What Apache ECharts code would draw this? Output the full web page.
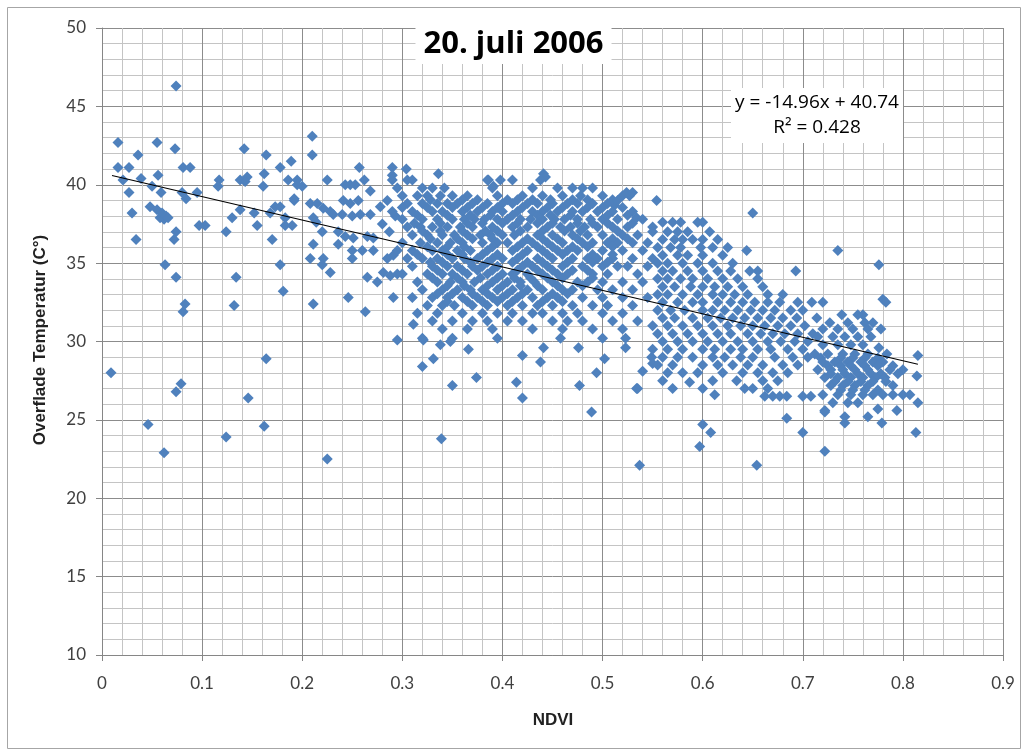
<!DOCTYPE html>
<html><head><meta charset="utf-8">
<script src="https://cdn.jsdelivr.net/npm/echarts@6/dist/echarts.min.js"></script>
<style>html,body{margin:0;padding:0;background:#fff}#c{width:1027px;height:751px}</style>
</head><body><div id="c"></div>
<script>
// ---- Data (NDVI, surface temperature °C) ----
const xTicks = [0, 0.1, 0.2, 0.3, 0.4, 0.5, 0.6, 0.7, 0.8, 0.9];
const yTicks = [10, 15, 20, 25, 30, 35, 40, 45, 50];
const trendSlope = -14.96, trendIntercept = 40.74, trendR2 = 0.428;
const trendRange = [0.01, 0.815];

const sparseLeft = [[0.009,28.0],[0.016,42.7],[0.016,41.1],[0.021,40.3],[0.027,41.1],[0.027,39.5],[0.030,38.2],[0.034,36.5],[0.036,41.9],[0.039,40.4],[0.046,24.7],[0.048,38.6],[0.050,39.9],[0.055,42.7],[0.056,40.6],[0.055,38.4],[0.058,37.9],[0.060,38.2],[0.062,37.8],[0.064,38.0],[0.066,37.9],[0.059,39.5],[0.063,34.9],[0.062,22.9],[0.073,42.3],[0.074,46.3],[0.074,37.0],[0.072,36.5],[0.074,34.1],[0.074,26.8],[0.079,27.3],[0.081,41.1],[0.088,41.1],[0.080,39.5],[0.084,39.1],[0.083,32.4],[0.081,31.9],[0.095,39.5],[0.097,37.4],[0.103,37.4],[0.117,40.3],[0.116,39.9],[0.124,23.9],[0.124,37.0],[0.130,37.9],[0.134,34.1],[0.132,32.3],[0.138,38.4],[0.138,40.3],[0.142,42.3],[0.145,40.5],[0.143,40.2],[0.146,26.4],[0.152,38.2],[0.155,37.4],[0.162,40.7],[0.161,39.9],[0.164,41.9],[0.162,24.6],[0.164,28.9],[0.170,36.5],[0.168,38.2],[0.173,38.6],[0.178,38.6],[0.178,41.1],[0.178,34.9],[0.181,33.2],[0.189,41.5],[0.186,40.3],[0.195,40.3],[0.192,39.0],[0.183,37.9],[0.183,37.4],[0.190,37.4]];

const sparseMid = [[0.200,39.9],[0.195,40.0],[0.210,43.1],[0.210,41.9],[0.208,38.8],[0.215,38.8],[0.192,39.1],[0.221,38.5],[0.228,38.3],[0.211,37.9],[0.214,37.6],[0.220,37.0],[0.211,36.2],[0.208,35.3],[0.221,35.3],[0.220,34.9],[0.228,34.4],[0.211,32.4],[0.225,40.3],[0.225,22.5],[0.231,38.1],[0.240,38.1],[0.250,38.0],[0.258,38.1],[0.268,38.1],[0.243,40.0],[0.248,40.0],[0.253,40.0],[0.257,41.1],[0.268,39.6],[0.241,39.0],[0.248,38.8],[0.256,39.0],[0.236,37.0],[0.243,36.7],[0.251,36.6],[0.265,36.7],[0.271,36.6],[0.236,36.2],[0.250,35.8],[0.250,35.3],[0.260,35.8],[0.271,35.8],[0.265,34.1],[0.246,32.8],[0.263,31.9],[0.275,33.8],[0.281,34.4],[0.288,34.2],[0.295,34.3],[0.285,35.3],[0.291,35.5],[0.291,32.8],[0.280,37.5],[0.287,37.0],[0.293,38.0],[0.278,38.6],[0.285,39.0],[0.290,41.1],[0.290,40.6],[0.290,40.3],[0.295,30.1],[0.262,40.3],
[0.311,31.1],[0.321,30.1],[0.320,28.4],[0.331,28.9],[0.338,29.8],[0.348,30.0],[0.339,23.8],[0.350,27.2],[0.366,29.5],[0.374,27.7],[0.336,40.7],[0.304,41.0],[0.414,27.4],[0.420,26.4],[0.420,29.1],[0.438,28.7],[0.441,29.6],[0.477,27.2],[0.476,29.6],[0.489,25.5],[0.494,28.0],[0.502,28.9],[0.523,29.6],[0.534,27.0],[0.537,22.1],[0.540,28.1],[0.441,40.7],[0.443,40.5],[0.386,40.3],[0.391,39.9],[0.512,38.7],[0.534,37.9],[0.549,29.0],[0.550,28.6],[0.535,27.0]];

const sparseRight = [[0.597,23.3],[0.600,24.7],[0.608,24.2],[0.654,22.1],[0.722,23.0],[0.722,25.5],[0.742,24.8],[0.684,25.1],[0.700,24.2],[0.644,35.8],[0.735,35.8],[0.776,34.9],[0.650,38.2],[0.587,27.4],[0.612,26.6],[0.780,32.7],[0.783,32.5],[0.776,29.6],[0.815,29.1],[0.814,27.8],[0.815,26.1],[0.813,24.2],[0.765,25.2],[0.775,25.7],[0.779,24.8],[0.794,25.6]];

// Dense band: each row = [temperature, [ndvi values]]
const coreRows = [
 [40.3,[0.305,0.310,0.398,0.410,0.438,0.385]],
 [39.8,[0.295,0.320,0.330,0.342,0.390,0.430,0.455,0.470,0.480,0.490]],
 [39.3,[0.300,0.315,0.325,0.338,0.350,0.365,0.395,0.420,0.440,0.460,0.478,0.500,0.520,0.527]],
 [38.8,[0.305,0.320,0.335,0.345,0.355,0.370,0.385,0.400,0.410,0.425,0.435,0.450,0.465,0.475,0.490,0.505]],
 [38.3,[0.290,0.310,0.330,0.340,0.360,0.375,0.390,0.400,0.415,0.430,0.440,0.455,0.470,0.480,0.495,0.510,0.530]],
 [37.8,[0.300,0.320,0.335,0.350,0.362,0.372,0.382,0.395,0.405,0.418,0.428,0.440,0.452,0.462,0.475,0.488,0.500,0.515,0.540]],
 [37.3,[0.305,0.318,0.330,0.345,0.358,0.370,0.390,0.410,0.425,0.445,0.458,0.468,0.482,0.495,0.510,0.525,0.550]],
 [36.8,[0.310,0.325,0.340,0.352,0.365,0.378,0.388,0.400,0.412,0.435,0.450,0.470,0.485,0.500,0.520,0.535]],
 [36.3,[0.300,0.318,0.335,0.348,0.360,0.380,0.395,0.405,0.420,0.430,0.445,0.460,0.480,0.490,0.505,0.515,0.530,0.545]],
 [35.8,[0.295,0.310,0.330,0.340,0.355,0.368,0.385,0.410,0.425,0.440,0.455,0.465,0.475,0.500,0.520,0.540]],
 [35.3,[0.305,0.320,0.335,0.350,0.362,0.375,0.390,0.400,0.415,0.435,0.450,0.470,0.485,0.495,0.510,0.530,0.550]],
 [34.8,[0.310,0.330,0.345,0.355,0.370,0.380,0.395,0.420,0.430,0.445,0.460,0.480,0.500,0.515,0.525,0.545]],
 [34.3,[0.300,0.325,0.340,0.350,0.365,0.385,0.400,0.410,0.425,0.440,0.455,0.465,0.490,0.505,0.535]],
 [33.8,[0.315,0.335,0.348,0.360,0.372,0.390,0.405,0.418,0.432,0.450,0.475,0.485,0.500,0.520,0.540]],
 [33.3,[0.320,0.340,0.355,0.368,0.380,0.395,0.410,0.425,0.440,0.460,0.470,0.495,0.510,0.530]],
 [32.8,[0.310,0.330,0.345,0.360,0.375,0.390,0.400,0.415,0.430,0.445,0.455,0.480,0.500,0.520,0.545]],
 [32.3,[0.325,0.340,0.352,0.370,0.385,0.405,0.420,0.435,0.450,0.470,0.490,0.505,0.530]],
 [31.8,[0.315,0.335,0.360,0.380,0.395,0.410,0.430,0.440,0.460,0.475,0.500,0.520]],
 [31.3,[0.330,0.350,0.370,0.385,0.405,0.420,0.450,0.465,0.480,0.510,0.535]],
 [30.8,[0.340,0.365,0.390,0.430,0.460,0.490,0.520]],
 [30.2,[0.320,0.350,0.395,0.458,0.500,0.523]]
];

const coreFillRows = [
 [39.05,[0.328,0.360,0.375,0.405,0.415,0.430,0.448,0.470,0.485,0.510]],
 [38.55,[0.300,0.325,0.350,0.365,0.380,0.395,0.420,0.445,0.460,0.485,0.500,0.520]],
 [38.05,[0.315,0.345,0.368,0.388,0.410,0.435,0.448,0.468,0.505,0.525]],
 [37.55,[0.312,0.338,0.365,0.380,0.400,0.415,0.435,0.450,0.475,0.490,0.505,0.530]],
 [37.05,[0.320,0.338,0.360,0.383,0.395,0.418,0.440,0.462,0.478,0.515]],
 [36.55,[0.328,0.355,0.370,0.390,0.425,0.440,0.455,0.475,0.510,0.525]],
 [36.05,[0.325,0.345,0.362,0.390,0.415,0.435,0.450,0.470,0.485,0.510]],
 [35.55,[0.315,0.345,0.360,0.380,0.395,0.420,0.445,0.460,0.490,0.510]],
 [35.05,[0.328,0.340,0.368,0.385,0.410,0.425,0.440,0.465,0.490,0.505]],
 [34.55,[0.335,0.360,0.375,0.390,0.415,0.435,0.450,0.470,0.485]],
 [34.05,[0.330,0.355,0.378,0.395,0.412,0.428,0.445,0.460,0.490]],
 [33.55,[0.345,0.362,0.385,0.400,0.418,0.435,0.455,0.480]],
 [33.05,[0.335,0.350,0.370,0.385,0.405,0.420,0.450,0.465]],
 [32.55,[0.345,0.365,0.380,0.395,0.410,0.440,0.460]]
];

const slopeRows = [
 [39.5,[0.524,0.530]],
 [39.0,[0.554,0.515]],
 [37.6,[0.560,0.570,0.578,0.595,0.600]],
 [37.0,[0.565,0.575,0.585,0.607,0.550]],
 [36.5,[0.560,0.572,0.580,0.590,0.600,0.615]],
 [36.0,[0.555,0.568,0.578,0.598,0.610,0.625]],
 [35.5,[0.560,0.575,0.585,0.600,0.620]],
 [35.0,[0.555,0.565,0.580,0.595,0.610,0.630]],
 [34.5,[0.560,0.570,0.585,0.600,0.615,0.628,0.647,0.655,0.693]],
 [34.0,[0.555,0.565,0.578,0.590,0.605,0.620,0.635,0.655]],
 [33.5,[0.560,0.572,0.588,0.600,0.612,0.625,0.640,0.660]],
 [33.0,[0.555,0.565,0.580,0.595,0.610,0.620,0.632,0.645,0.665,0.680]],
 [32.5,[0.560,0.575,0.590,0.600,0.615,0.628,0.640,0.652,0.665,0.677,0.695,0.709]],
 [32.0,[0.555,0.568,0.582,0.600,0.610,0.622,0.635,0.648,0.660,0.672,0.688,0.700]],
 [31.5,[0.560,0.572,0.590,0.605,0.618,0.630,0.642,0.655,0.668,0.680,0.694,0.714]],
 [31.0,[0.550,0.565,0.580,0.595,0.610,0.625,0.638,0.650,0.662,0.675,0.688,0.702]],
 [30.5,[0.555,0.570,0.585,0.600,0.615,0.628,0.645,0.658,0.670,0.682,0.695,0.710]],
 [30.0,[0.560,0.575,0.590,0.605,0.620,0.635,0.650,0.665,0.678,0.692,0.705]],
 [29.5,[0.550,0.565,0.580,0.600,0.612,0.628,0.640,0.655,0.668,0.685,0.700]],
 [29.0,[0.560,0.575,0.590,0.610,0.622,0.638,0.650,0.672,0.690,0.705]],
 [28.5,[0.555,0.570,0.600,0.615,0.630,0.645,0.660,0.680,0.695]],
 [28.0,[0.565,0.580,0.595,0.620,0.640,0.655,0.670,0.685]],
 [27.5,[0.560,0.610,0.634,0.660,0.675]],
 [27.0,[0.570,0.600,0.642,0.650,0.665]],
 [26.5,[0.662,0.670,0.677,0.684,0.700,0.708]]
];

const tailRows = [
 [32.5,[0.720]],
 [31.7,[0.739,0.755,0.760]],
 [31.2,[0.727,0.745,0.762,0.770]],
 [30.8,[0.720,0.735,0.750,0.765,0.778]],
 [30.3,[0.715,0.730,0.742,0.755,0.768]],
 [29.8,[0.720,0.735,0.748,0.760]],
 [29.2,[0.712,0.725,0.740,0.752,0.765,0.784]],
 [28.95,[0.718,0.738,0.750,0.762,0.775]],
 [28.7,[0.720,0.732,0.745,0.758,0.770,0.780]],
 [28.45,[0.725,0.738,0.748,0.762,0.775,0.790]],
 [28.2,[0.715,0.728,0.740,0.752,0.765,0.787,0.800]],
 [27.95,[0.728,0.742,0.755,0.768,0.778,0.795]],
 [27.7,[0.722,0.735,0.748,0.760,0.773,0.782]],
 [27.45,[0.732,0.745,0.758,0.770,0.783]],
 [27.2,[0.728,0.740,0.752,0.765,0.790]],
 [26.9,[0.738,0.750,0.762,0.775]],
 [26.6,[0.720,0.735,0.748,0.760,0.770,0.780,0.790,0.800,0.807]],
 [26.1,[0.730,0.745,0.755]],
 [25.6,[0.722]],
 [25.2,[0.742]]
];

// ---- build ----
function rowsToPairs(rows){ const out=[]; rows.forEach(r=>r[1].forEach(x=>out.push([x,r[0]]))); return out; }
const points = sparseLeft.concat(sparseMid, sparseRight, rowsToPairs(coreRows), rowsToPairs(coreFillRows), rowsToPairs(slopeRows), rowsToPairs(tailRows));
const trendData = trendRange.map(x => [x, trendSlope * x + trendIntercept]);

const chart = echarts.init(document.getElementById('c'), null, {renderer:'canvas'});
const labelFont = {fontFamily:'Lato, "Open Sans", sans-serif', fontSize:17, color:'#404040'};
chart.setOption({
  animation:false,
  backgroundColor:'#fff',
  grid:{left:102, right:24, top:28, bottom:96, containLabel:false},
  title:{
    text:'20. juli 2006', left:'center', top:25,
    backgroundColor:'#fff', padding:[4,8,4,8],
    textStyle:{fontFamily:'"Open Sans", Lato, sans-serif', fontWeight:'bold', fontSize:31, color:'#000'}
  },
  xAxis:{
    type:'value', min:0, max:0.9, interval:0.1,
    axisLine:{show:true, lineStyle:{color:'#868686', width:1}},
    axisTick:{show:true, length:6, lineStyle:{color:'#868686'}},
    axisLabel:Object.assign({margin:20, formatter:v=>String(+v.toFixed(1))}, labelFont),
    splitLine:{show:true, lineStyle:{color:'#8c8c8c', width:1}},
    minorTick:{show:false, splitNumber:5},
    minorSplitLine:{show:true, lineStyle:{color:'#c4c4c4', width:1}}
  },
  yAxis:{
    type:'value', min:10, max:50, interval:5,
    axisLine:{show:true, lineStyle:{color:'#868686', width:1}},
    axisTick:{show:true, length:6, lineStyle:{color:'#868686'}},
    axisLabel:Object.assign({margin:16}, labelFont),
    splitLine:{show:true, lineStyle:{color:'#8c8c8c', width:1}},
    minorTick:{show:false, splitNumber:5},
    minorSplitLine:{show:true, lineStyle:{color:'#c4c4c4', width:1}}
  },
  series:[
    {type:'scatter', data:points, symbol:'diamond', symbolSize:[11,11],
     itemStyle:{color:'#4F81BD', opacity:1}, z:2},
    {type:'line', data:trendData, showSymbol:false, symbol:'none',
     lineStyle:{color:'#000', width:1.2}, z:3, silent:true}
  ],
  graphic:[
    {type:'rect', shape:{x:7.5, y:7.5, width:1013, height:741}, style:{fill:null, stroke:'#a6a6a6', lineWidth:1}, z:10, silent:true},
    {type:'rect', shape:{x:731, y:88, width:172, height:55}, style:{fill:'#fff'}, z:10, silent:true},
    {type:'text', x:817, y:103, z:11,
     style:{text:'y = -14.96x + 40.74', align:'center', verticalAlign:'middle',
       font:'19px "Open Sans", Lato, sans-serif', fill:'#000'}},
    {type:'text', x:817, y:128, z:11,
     style:{text:'R² = 0.428', align:'center', verticalAlign:'middle',
       font:'19px "Open Sans", Lato, sans-serif', fill:'#000'}},
    {type:'text', x:553, y:720, z:11,
     style:{text:'NDVI', align:'center', verticalAlign:'middle',
       font:'bold 17px "Liberation Sans", sans-serif', fill:'#222'}},
    {type:'text', x:40, y:340, rotation:Math.PI/2, z:11,
     style:{text:'Overflade Temperatur (C°)', align:'center', verticalAlign:'middle',
       font:'bold 17px "Liberation Sans", sans-serif', fill:'#222'}}
  ]
});
</script></body></html>
